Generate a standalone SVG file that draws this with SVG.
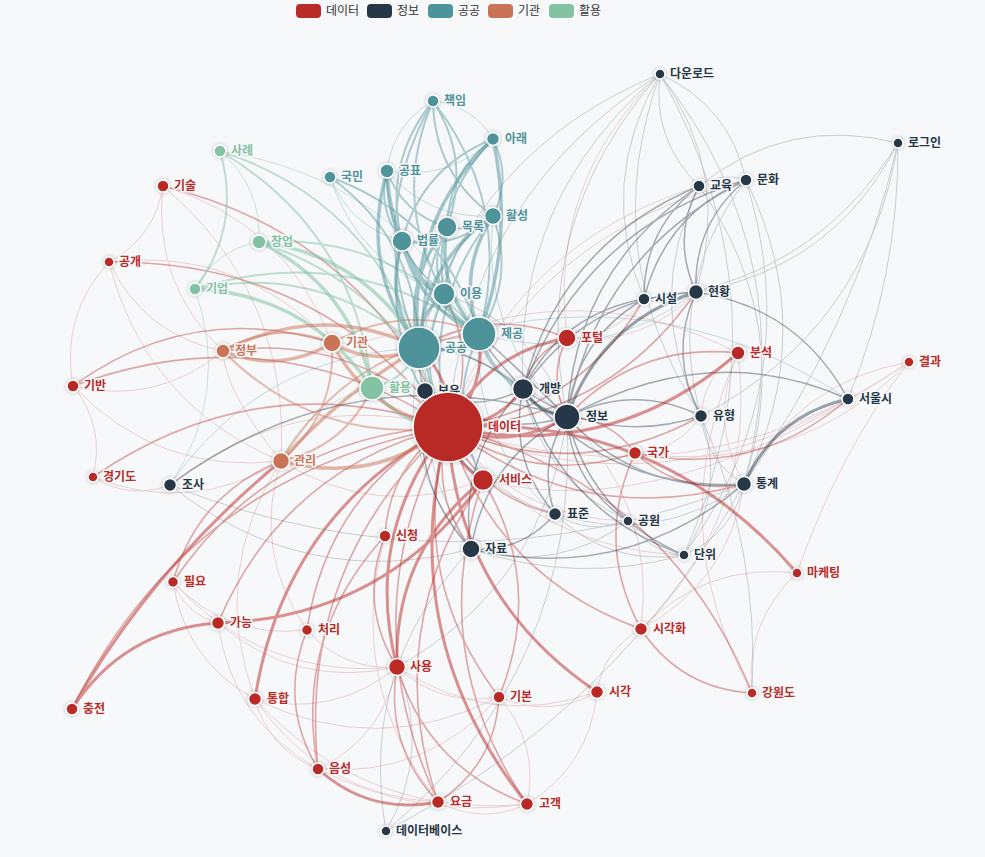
<svg xmlns="http://www.w3.org/2000/svg" width="985" height="857" viewBox="0 0 985 857">
<style>
.e{fill:none;stroke-linecap:round}
.r1{stroke:#b92b27;stroke-width:1;opacity:.2}.r2{stroke:#b92b27;stroke-width:1.6;opacity:.4}.r3{stroke:#b92b27;stroke-width:3;opacity:.5}
.d1{stroke:#253746;stroke-width:1;opacity:.22}.d2{stroke:#253746;stroke-width:1.5;opacity:.4}.d3{stroke:#253746;stroke-width:3;opacity:.45}
.t1{stroke:#4f939a;stroke-width:1;opacity:.3}.t2{stroke:#4f939a;stroke-width:2;opacity:.45}.t3{stroke:#4f939a;stroke-width:3.5;opacity:.5}
.g1{stroke:#83c2a2;stroke-width:1;opacity:.4}.g2{stroke:#83c2a2;stroke-width:2;opacity:.5}.g3{stroke:#83c2a2;stroke-width:3.5;opacity:.55}
.o1{stroke:#cb7357;stroke-width:1;opacity:.3}.o2{stroke:#cb7357;stroke-width:2;opacity:.45}.o3{stroke:#cb7357;stroke-width:3.5;opacity:.5}
.n circle{stroke:#fff;stroke-width:1.5;filter:url(#sh)}
.n text{font-family:"Noto Sans CJK KR","Noto Sans",sans-serif;font-size:12px;font-weight:600;stroke:#f7f8fa;stroke-width:3;paint-order:stroke;stroke-linejoin:round}
.R circle{fill:#b92b27}.R text{fill:#b92b27}
.D circle{fill:#253746}.D text{fill:#253746}
.T circle{fill:#4f939a}.T text{fill:#4f939a}
.O circle{fill:#cb7357}.O text{fill:#cb7357}
.G circle{fill:#83c2a2}.G text{fill:#83c2a2}
.lg text{font-family:"Noto Sans CJK KR","Noto Sans",sans-serif;font-size:12px;fill:#333}
</style>
<defs>
<filter id="sh" x="-50%" y="-50%" width="200%" height="200%"><feDropShadow dx="0" dy="0" stdDeviation="2" flood-color="#000" flood-opacity=".25"/></filter>
</defs>
<rect width="985" height="857" fill="#f7f8fa"/>
<g id="legend" class="lg">
<rect x="296" y="4" width="25" height="14" rx="4" fill="#b92b27"/><text x="326" y="15">데이터</text>
<rect x="367" y="4" width="25" height="14" rx="4" fill="#253746"/><text x="397" y="15">정보</text>
<rect x="428" y="4" width="25" height="14" rx="4" fill="#4f939a"/><text x="458" y="15">공공</text>
<rect x="488" y="4" width="25" height="14" rx="4" fill="#cb7357"/><text x="518" y="15">기관</text>
<rect x="549" y="4" width="25" height="14" rx="4" fill="#83c2a2"/><text x="579" y="15">활용</text>
</g>
<g id="edges">
<g class="e r1">
<path d="M448 427Q694.75 509.75 909 362"/><path d="M318 769Q420 820 527 804"/><path d="M255 699Q269 750 318 769"/><path d="M255 699Q321 796 438 802"/><path d="M255 699Q334 718.5 397 667"/><path d="M218 623Q296.5 689.75 397 667"/><path d="M499 697Q549 719 597 692"/><path d="M397 667Q491 729.5 597 692"/><path d="M527 804Q590 765.5 597 692"/><path d="M173 582Q185 614 218 623"/><path d="M173 582Q185 661 255 699"/><path d="M218 623Q231.5 721 318 769"/><path d="M255 699Q365 819.5 527 804"/><path d="M93 477Q105.75 426.5 73 386"/><path d="M109 262Q60 315 73 386"/><path d="M109 262Q155 237.5 163 186"/><path d="M635 453Q794.75 476 909 362"/><path d="M909 362Q796 381.75 744 484"/><path d="M909 362Q840 450 797 573"/><path d="M483 480Q666.5 527.5 909 362"/><path d="M797 573Q705 562 641 629"/><path d="M797 573Q744.5 621.75 752 693"/><path d="M448 427Q514.5 519 628 521"/><path d="M448 427Q534 550 684 555"/><path d="M448 427Q655 513 848 399"/><path d="M448 427Q294.5 386.5 170 485"/><path d="M699 186Q513.25 243.75 448 427"/><path d="M746 180Q535.25 229 448 427"/><path d="M567 338Q643 347 696 292"/><path d="M660 74Q547.5 182.75 567 338"/><path d="M567 338Q615.25 337.75 644 299"/><path d="M738 353Q708 420 744 484"/><path d="M641 629Q758.5 515 738 353"/><path d="M738 353Q703.75 375.25 701 416"/><path d="M738 353Q579.75 270.75 419 348"/><path d="M635 453Q677.25 451 701 416"/><path d="M641 629Q657 504.5 567 417"/><path d="M641 629Q728.75 582.25 744 484"/><path d="M163 186Q290.75 294 281 461"/><path d="M163 186Q286.75 222.25 332 343"/><path d="M163 186Q151.75 283.5 223 351"/><path d="M109 262Q145.25 404.5 281 461"/><path d="M109 262Q143.75 335 223 351"/><path d="M109 262Q240.75 246.75 332 343"/><path d="M73 386Q158.25 475.5 281 461"/><path d="M73 386Q156.75 406 223 351"/><path d="M93 477Q191 516 281 461"/><path d="M93 477Q129.5 500.25 170 485"/><path d="M173 582Q228 639.5 307 630"/><path d="M173 582Q263.75 680.5 397 667"/><path d="M307 630Q342.75 671 397 667"/><path d="M281 461Q251.75 552 307 630"/><path d="M385 536Q345 682.25 438 802"/><path d="M397 667Q440.5 707.5 499 697"/><path d="M641 629Q603.25 649.5 597 692"/><path d="M527 804Q539.75 743.5 499 697"/><path d="M438 802Q482 825.25 527 804"/><path d="M318 769Q383 737.75 397 667"/><path d="M318 769Q426.5 778.25 499 697"/><path d="M255 699Q377.5 759 499 697"/><path d="M738 353Q660 526.5 752 693"/><path d="M281 461Q208.5 573.5 255 699"/>
</g>
<g class="e d1">
<path d="M701 416Q705.5 460.75 744 484"/><path d="M644 299Q671.75 308.5 696 292"/><path d="M699 186Q642.5 301.5 701 416"/><path d="M744 484Q796 323.75 699 186"/><path d="M746 180Q721 171.25 699 186"/><path d="M744 484Q821 332.5 746 180"/><path d="M746 180Q664.5 286.75 701 416"/><path d="M684 555Q808.75 383 746 180"/><path d="M660 74Q512.75 197.25 523 389"/><path d="M660 74Q527.75 222.25 567 417"/><path d="M660 74Q595.75 182.5 644 299"/><path d="M696 292Q732.5 174 660 74"/><path d="M660 74Q651.5 139.75 699 186"/><path d="M746 180Q729.5 105.5 660 74"/><path d="M744 484Q804.5 258 660 74"/><path d="M660 74Q465.75 197.5 448 427"/><path d="M660 74Q471 150.75 419 348"/><path d="M660 74Q595 255.25 701 416"/><path d="M684 555Q792.25 308.5 660 74"/><path d="M696 292Q834 268 898 143"/><path d="M744 484Q855 329 898 143"/><path d="M848 399Q899 276 898 143"/><path d="M701 416Q867.75 328.75 898 143"/><path d="M898 143Q787.75 114.75 699 186"/><path d="M644 299Q810 284.5 898 143"/><path d="M523 389Q542.5 481.25 628 521"/><path d="M471 549Q577 585 684 555"/><path d="M471 549Q556.5 574.25 628 521"/><path d="M555 514Q589.75 535.75 628 521"/><path d="M628 521Q647.5 552 684 555"/><path d="M555 514Q609.25 566.75 684 555"/><path d="M555 514Q657 546.25 744 484"/><path d="M684 555Q731.75 534.5 744 484"/><path d="M684 555Q727.25 489.75 701 416"/><path d="M425 391Q459.25 485 555 514"/><path d="M170 485Q304.5 592.25 471 549"/><path d="M170 485Q457 599 744 484"/><path d="M471 549Q358 668.75 386 831"/><path d="M386 831Q580 669.25 567 417"/><path d="M386 831Q432.5 751.75 397 667"/><path d="M386 831Q617 711 744 484"/><path d="M397 667Q544.5 584.5 567 417"/><path d="M567 417Q475.75 345.5 419 348"/><path d="M567 417Q536.25 324.75 444 294"/><path d="M752 693Q760 550 701 416"/>
</g>
<g class="e t1">
<path d="M493 139Q472.5 105 433 101"/><path d="M433 101Q392.5 124.5 387 171"/><path d="M387 171Q448 181.5 493 139"/><path d="M387 171Q428.75 220 493 216"/><path d="M330 177Q357.75 264 444 294"/><path d="M330 177Q350 227 402 241"/><path d="M419 348Q394.75 461.5 471 549"/><path d="M444 294Q393.75 428.25 471 549"/><path d="M493 216Q479.75 335 567 417"/><path d="M479 334Q598 367.25 696 292"/><path d="M848 399Q646 266 419 348"/><path d="M479 334Q472 443 555 514"/><path d="M419 348Q260.25 354.25 170 485"/>
</g>
<g class="e g1">
<path d="M259 242Q262 187 220 151"/><path d="M259 242Q215 249.5 195 289"/><path d="M170 485Q231.5 393 195 289"/><path d="M479 334Q395 178 220 151"/><path d="M372 388Q308.25 401.75 281 461"/>
</g>
<g class="e o1">
<path d="M281 461Q224.5 391.5 223 351"/><path d="M332 343Q400.25 346.5 444 294"/><path d="M281 461Q377.25 521 483 480"/>
</g>
<g class="e r2">
<path d="M448 427Q189.5 474 72 709"/><path d="M448 427Q349 612 438 802"/><path d="M448 427Q297.5 565.5 318 769"/><path d="M448 427Q284 467.5 218 623"/><path d="M448 427Q406 574.75 499 697"/><path d="M448 427Q494 576 641 629"/><path d="M448 427Q535 486.75 635 453"/><path d="M752 693Q666.5 484 448 427"/><path d="M448 427Q270.75 312.75 73 386"/><path d="M448 427Q319.75 259.75 109 262"/><path d="M448 427Q365.75 235.25 163 186"/><path d="M448 427Q258 363.25 93 477"/><path d="M448 427Q271.75 435.75 173 582"/><path d="M448 427Q326.75 493.25 307 630"/><path d="M448 427Q389 466 385 536"/><path d="M397 667Q384 745 438 802"/><path d="M397 667Q428 768 527 804"/><path d="M438 802Q495 765 499 697"/><path d="M307 630Q278 702 318 769"/><path d="M641 629Q680.5 688.75 752 693"/><path d="M385 536Q358 604.5 397 667"/><path d="M483 480Q380 630 438 802"/><path d="M483 480Q424 653 527 804"/><path d="M499 697Q545.25 584.5 483 480"/><path d="M635 453Q594 542.5 641 629"/><path d="M448 427Q577 484.75 701 416"/><path d="M448 427Q581.75 529.5 744 484"/><path d="M448 427Q429 493.75 471 549"/><path d="M448 427Q479.75 497.25 555 514"/><path d="M448 427Q479.25 359.5 444 294"/><path d="M448 427Q354.5 332.75 223 351"/><path d="M448 427Q605.75 421.5 696 292"/><path d="M448 427Q578 412 644 299"/><path d="M567 338Q547 377.5 567 417"/><path d="M567 338Q532.25 352.5 523 389"/><path d="M567 338Q490.5 306 419 348"/><path d="M738 353Q636.5 342 567 417"/><path d="M635 453Q610 418 567 417"/><path d="M635 453Q681.75 495.75 744 484"/><path d="M635 453Q755 479 848 399"/><path d="M332 343Q191.75 299.75 73 386"/><path d="M173 582Q196.75 494.5 281 461"/><path d="M385 536Q293.25 635.75 318 769"/>
</g>
<g class="e d2">
<path d="M848 399Q798.75 307.5 696 292"/><path d="M848 399Q712 337.75 567 417"/><path d="M567 417Q638.75 494.75 744 484"/><path d="M696 292Q667.5 355.25 701 416"/><path d="M701 416Q633.75 383 567 417"/><path d="M696 292Q585.25 297.25 523 389"/><path d="M644 299Q576 338.75 567 417"/><path d="M644 299Q561 313.75 523 389"/><path d="M699 186Q575.25 268.5 567 417"/><path d="M699 186Q560.25 243.5 523 389"/><path d="M699 186Q643.25 228.75 644 299"/><path d="M699 186Q671 238.25 696 292"/><path d="M746 180Q597.25 253.75 567 417"/><path d="M746 180Q665.25 214 644 299"/><path d="M746 180Q693 223.5 696 292"/><path d="M746 180Q582.25 228.75 523 389"/><path d="M523 389Q457 456 471 549"/><path d="M567 417Q486 459 471 549"/><path d="M567 417Q536.75 462.5 555 514"/><path d="M567 417Q571.5 484.25 628 521"/><path d="M567 417Q591 515.25 684 555"/><path d="M523 389Q507.75 459.5 555 514"/><path d="M523 389Q562 512.25 684 555"/><path d="M523 389Q609.75 491.75 744 484"/><path d="M523 389Q605.25 447 701 416"/><path d="M471 549Q521.75 552.5 555 514"/><path d="M471 549Q623.75 584.75 744 484"/><path d="M425 391Q489.5 439.5 567 417"/><path d="M425 391Q408.5 481.5 471 549"/><path d="M425 391Q474.5 414.5 523 389"/><path d="M567 417Q351.5 351.75 170 485"/><path d="M567 417Q502.25 353.5 479 334"/><path d="M523 389Q460.75 342.5 419 348"/><path d="M523 389Q487.25 350.5 479 334"/>
</g>
<g class="e t2">
<path d="M433 101Q364.25 221 419 348"/><path d="M479 334Q514.25 206 433 101"/><path d="M433 101Q382.5 163.25 402 241"/><path d="M447 227Q471.5 160.5 433 101"/><path d="M433 101Q434.25 173.5 493 216"/><path d="M433 101Q390.25 200.25 444 294"/><path d="M493 139Q422 167.25 402 241"/><path d="M493 139Q448 171.5 447 227"/><path d="M493 139Q429.75 204.25 444 294"/><path d="M493 216Q512.25 177.5 493 139"/><path d="M387 171Q377 209.75 402 241"/><path d="M387 171Q403 214 447 227"/><path d="M387 171Q384.75 246.75 444 294"/><path d="M402 241Q428 245.25 447 227"/><path d="M402 241Q453.75 251.25 493 216"/><path d="M447 227Q428.75 259.75 444 294"/><path d="M447 227Q472.75 233 493 216"/><path d="M493 216Q515.5 278.5 479 334"/><path d="M493 216Q449 242.75 444 294"/><path d="M419 348Q417.25 240.25 330 177"/><path d="M479 334Q443.75 218.25 330 177"/><path d="M479 334Q444.5 408 483 480"/><path d="M419 348Q418 430 483 480"/><path d="M479 334Q502.25 397.5 567 417"/><path d="M479 334Q487.25 372.5 523 389"/><path d="M444 294Q412.75 361.5 448 427"/><path d="M402 241Q378.5 345.5 448 427"/><path d="M447 227Q397.5 327.25 448 427"/><path d="M493 216Q417.75 310.25 448 427"/>
</g>
<g class="e g2">
<path d="M372 388Q355.25 231.5 220 151"/><path d="M419 348Q368.75 199.75 220 151"/><path d="M195 289Q242 226.25 220 151"/><path d="M419 348Q321.75 262.5 195 289"/><path d="M372 388Q405.5 379.75 419 348"/><path d="M479 334Q392 233 259 242"/><path d="M479 334Q348.25 240.5 195 289"/><path d="M448 427Q399.75 287.25 259 242"/>
</g>
<g class="e o2">
<path d="M332 343Q275.5 319.75 223 351"/><path d="M479 334Q407.75 301.75 332 343"/><path d="M281 461Q336 414.75 332 343"/><path d="M223 351Q316.5 445.25 448 427"/><path d="M479 334Q348.25 348 281 461"/><path d="M281 461Q344.75 447.25 372 388"/>
</g>
<g class="e r3">
<path d="M72 709Q150 570 281 461"/><path d="M448 427Q362.5 534 397 667"/><path d="M797 573Q659 412.75 448 427"/><path d="M448 427Q456 597 597 692"/><path d="M448 427Q393 635 527 804"/><path d="M448 427Q283.5 514.75 255 699"/><path d="M567 338Q485 352.75 448 427"/><path d="M448 427Q611.5 462.5 738 353"/><path d="M448 427Q452 462 483 480"/><path d="M218 623Q123.5 629.5 72 709"/><path d="M218 623Q386 618 483 480"/><path d="M318 769Q369.75 815.5 438 802"/><path d="M483 480Q393.25 552 397 667"/><path d="M448 427Q510 451.75 567 417"/><path d="M448 427Q495 426.75 523 389"/><path d="M448 427Q453.25 380.25 419 348"/><path d="M448 427Q486.75 388.25 479 334"/>
</g>
<g class="e d3">
<path d="M848 399Q774.75 415.5 744 484"/><path d="M696 292Q600.25 322.25 567 417"/><path d="M523 389Q538 414 567 417"/>
</g>
<g class="e t3">
<path d="M479 334Q515 240 493 139"/><path d="M493 139Q403.75 225 419 348"/><path d="M387 171Q358.75 267.5 419 348"/><path d="M387 171Q392.25 275.5 479 334"/><path d="M402 241Q383.75 298.75 419 348"/><path d="M402 241Q417.25 306.75 479 334"/><path d="M402 241Q409.75 278 444 294"/><path d="M447 227Q402.75 280.5 419 348"/><path d="M447 227Q436.25 288.5 479 334"/><path d="M493 216Q423 263.5 419 348"/><path d="M493 216Q456.5 271.5 479 334"/><path d="M444 294Q418 314.75 419 348"/><path d="M444 294Q451.5 322.75 479 334"/><path d="M419 348Q452.5 356 479 334"/>
</g>
<g class="e g3">
<path d="M372 388Q352 286.75 259 242"/><path d="M419 348Q365.5 255 259 242"/><path d="M372 388Q308.25 294.25 195 289"/><path d="M372 388Q400.25 426.5 448 427"/>
</g>
<g class="e o3">
<path d="M223 351Q279.5 374.25 332 343"/><path d="M419 348Q321.75 300.5 223 351"/><path d="M332 343Q374.25 367.25 419 348"/><path d="M332 343Q369 414 448 427"/><path d="M281 461Q373 485.75 448 427"/><path d="M281 461Q340 395 419 348"/>
</g>
</g>
<g id="nodes">
<g id="n-seobiseu" class="n R"><circle cx="483" cy="480" r="10.5"/><text x="499" y="484">서비스</text></g>
<g id="n-potal" class="n R"><circle cx="567" cy="338" r="9"/><text x="581" y="342">포털</text></g>
<g id="n-bunseok" class="n R"><circle cx="738" cy="353" r="7"/><text x="750" y="357">분석</text></g>
<g id="n-gyeolgwa" class="n R"><circle cx="909" cy="362" r="5"/><text x="919" y="366">결과</text></g>
<g id="n-gukga" class="n R"><circle cx="635" cy="453" r="6.5"/><text x="647" y="457">국가</text></g>
<g id="n-maketing" class="n R"><circle cx="797" cy="573" r="5"/><text x="807" y="577">마케팅</text></g>
<g id="n-sigakhwa" class="n R"><circle cx="641" cy="629" r="6.5"/><text x="653" y="633">시각화</text></g>
<g id="n-gangwondo" class="n R"><circle cx="752" cy="693" r="5"/><text x="762" y="697">강원도</text></g>
<g id="n-sigak" class="n R"><circle cx="597" cy="692" r="6.5"/><text x="609" y="696">시각</text></g>
<g id="n-gibon" class="n R"><circle cx="499" cy="697" r="6"/><text x="510" y="701">기본</text></g>
<g id="n-gogaek" class="n R"><circle cx="527" cy="804" r="6.5"/><text x="539" y="808">고객</text></g>
<g id="n-yogeum" class="n R"><circle cx="438" cy="802" r="6.5"/><text x="450" y="806">요금</text></g>
<g id="n-eumseong" class="n R"><circle cx="318" cy="769" r="6"/><text x="329" y="773">음성</text></g>
<g id="n-sayong" class="n R"><circle cx="397" cy="667" r="8.5"/><text x="410" y="671">사용</text></g>
<g id="n-tonghap" class="n R"><circle cx="255" cy="699" r="6.5"/><text x="267" y="703">통합</text></g>
<g id="n-cheori" class="n R"><circle cx="307" cy="630" r="5.5"/><text x="318" y="634">처리</text></g>
<g id="n-ganeung" class="n R"><circle cx="218" cy="623" r="6.5"/><text x="230" y="627">가능</text></g>
<g id="n-pilyo" class="n R"><circle cx="173" cy="582" r="5.5"/><text x="184" y="586">필요</text></g>
<g id="n-chungjeon" class="n R"><circle cx="72" cy="709" r="6"/><text x="83" y="713">충전</text></g>
<g id="n-sincheong" class="n R"><circle cx="385" cy="536" r="6"/><text x="396" y="540">신청</text></g>
<g id="n-gyeonggido" class="n R"><circle cx="93" cy="477" r="5"/><text x="103" y="481">경기도</text></g>
<g id="n-giban" class="n R"><circle cx="73" cy="386" r="6"/><text x="84" y="390">기반</text></g>
<g id="n-gonggae" class="n R"><circle cx="109" cy="262" r="5"/><text x="119" y="266">공개</text></g>
<g id="n-gisul" class="n R"><circle cx="163" cy="186" r="6"/><text x="174" y="190">기술</text></g>
<g id="n-jeongbo" class="n D"><circle cx="567" cy="417" r="13"/><text x="586" y="421">정보</text></g>
<g id="n-gaebang" class="n D"><circle cx="523" cy="389" r="10.5"/><text x="539" y="393">개방</text></g>
<g id="n-pyojun" class="n D"><circle cx="555" cy="514" r="6.5"/><text x="567" y="518">표준</text></g>
<g id="n-gongwon" class="n D"><circle cx="628" cy="521" r="5"/><text x="638" y="525">공원</text></g>
<g id="n-jaryo" class="n D"><circle cx="471" cy="549" r="9"/><text x="485" y="553">자료</text></g>
<g id="n-danwi" class="n D"><circle cx="684" cy="555" r="5"/><text x="694" y="559">단위</text></g>
<g id="n-tonggye" class="n D"><circle cx="744" cy="484" r="7.5"/><text x="756" y="488">통계</text></g>
<g id="n-yuhyeong" class="n D"><circle cx="701" cy="416" r="6.5"/><text x="713" y="420">유형</text></g>
<g id="n-seoulsi" class="n D"><circle cx="848" cy="399" r="6"/><text x="859" y="403">서울시</text></g>
<g id="n-siseol" class="n D"><circle cx="644" cy="299" r="6"/><text x="655" y="303">시설</text></g>
<g id="n-hyeonhwang" class="n D"><circle cx="696" cy="292" r="7.5"/><text x="708" y="296">현황</text></g>
<g id="n-gyoyuk" class="n D"><circle cx="699" cy="186" r="6"/><text x="710" y="190">교육</text></g>
<g id="n-munhwa" class="n D"><circle cx="746" cy="180" r="6"/><text x="757" y="184">문화</text></g>
<g id="n-daunrodeu" class="n D"><circle cx="660" cy="74" r="5"/><text x="670" y="78">다운로드</text></g>
<g id="n-rogeuin" class="n D"><circle cx="898" cy="143" r="5"/><text x="908" y="147">로그인</text></g>
<g id="n-josa" class="n D"><circle cx="170" cy="485" r="6.5"/><text x="182" y="489">조사</text></g>
<g id="n-database" class="n D"><circle cx="386" cy="831" r="5"/><text x="396" y="835">데이터베이스</text></g>
<g id="n-chaegim" class="n T"><circle cx="433" cy="101" r="6"/><text x="444" y="105">책임</text></g>
<g id="n-arae" class="n T"><circle cx="493" cy="139" r="6.5"/><text x="505" y="143">아래</text></g>
<g id="n-gongpyo" class="n T"><circle cx="387" cy="171" r="7"/><text x="399" y="175">공표</text></g>
<g id="n-gukmin" class="n T"><circle cx="330" cy="177" r="6"/><text x="341" y="181">국민</text></g>
<g id="n-hwalseong" class="n T"><circle cx="493" cy="216" r="8.5"/><text x="506" y="220">활성</text></g>
<g id="n-mokrok" class="n T"><circle cx="447" cy="227" r="10"/><text x="462" y="231">목록</text></g>
<g id="n-beopryul" class="n T"><circle cx="402" cy="241" r="10"/><text x="417" y="245">법률</text></g>
<g id="n-iyong" class="n T"><circle cx="444" cy="294" r="11"/><text x="460" y="298">이용</text></g>
<g id="n-gwanri" class="n O"><circle cx="281" cy="461" r="8.5"/><text x="294" y="465">관리</text></g>
<g id="n-jeongbu" class="n O"><circle cx="223" cy="351" r="7"/><text x="235" y="355">정부</text></g>
<g id="n-gigwan" class="n O"><circle cx="332" cy="343" r="9"/><text x="346" y="347">기관</text></g>
<g id="n-sarye" class="n G"><circle cx="220" cy="151" r="6"/><text x="231" y="155">사례</text></g>
<g id="n-changeop" class="n G"><circle cx="259" cy="242" r="7"/><text x="271" y="246">창업</text></g>
<g id="n-gieop" class="n G"><circle cx="195" cy="289" r="6"/><text x="206" y="293">기업</text></g>
<g id="n-hwalyong" class="n G"><circle cx="372" cy="388" r="12"/><text x="389" y="392">활용</text></g>
<g id="n-boyu" class="n D"><circle cx="425" cy="391" r="8.5"/><text x="438" y="395">보유</text></g>
<g id="n-gonggong" class="n T"><circle cx="419" cy="348" r="21"/><text x="445" y="352">공공</text></g>
<g id="n-jegong" class="n T"><circle cx="479" cy="334" r="17"/><text x="501" y="338">제공</text></g>
<g id="n-deiteo" class="n R"><circle cx="448" cy="427" r="35"/><text x="488" y="431">데이터</text></g>
</g>
</svg>
